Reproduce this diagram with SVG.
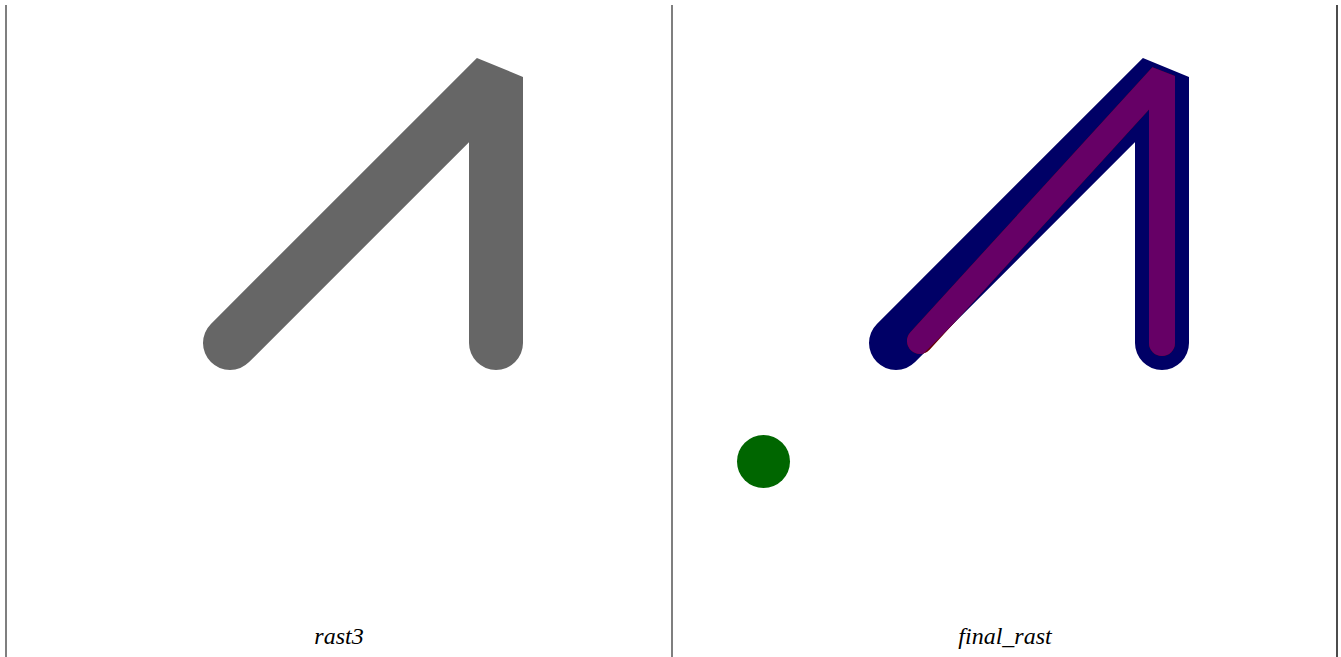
<svg xmlns="http://www.w3.org/2000/svg" width="1341" height="657" viewBox="0 0 1341 657">
<style>
.frame{stroke:#555555;stroke-width:1.5;fill:none}
.lbl{font-family:"Liberation Serif",serif;font-style:italic;font-size:24px;fill:#000;text-anchor:middle}
.stk{fill:none;stroke-linecap:round;stroke-linejoin:bevel}
</style>
<defs>
<mask id="navyMask" maskUnits="userSpaceOnUse" x="0" y="0" width="1341" height="657">
<rect width="1341" height="657" fill="#000"/>
<path class="stk" d="M896,343 L1162,77 L1162,343" stroke="#fff" stroke-width="54"/>
</mask>
</defs>
<rect width="1341" height="657" fill="#ffffff"/>
<g id="frames">
<line class="frame" x1="6" y1="5" x2="6" y2="657"/>
<line class="frame" x1="672" y1="5" x2="672" y2="657"/>
<line class="frame" x1="1337" y1="5" x2="1337" y2="657" style="stroke:#111"/>
</g>
<g id="rast3">
<path class="stk" d="M230,343 L496,77 L496,343" stroke="#666666" stroke-width="54"/>
<text class="lbl" x="339" y="644">rast3</text>
</g>
<g id="final_rast">
<path class="stk" d="M896,343 L1162,77 L1162,343" stroke="#000066" stroke-width="54"/>
<path class="stk" d="M920,341 L1162,76 L1162,343" stroke="#660000" stroke-width="26"/>
<path class="stk" d="M920,341 L1162,76 L1162,343" stroke="#660066" stroke-width="26" mask="url(#navyMask)"/>
<circle cx="763.5" cy="461.5" r="26.5" fill="#006600"/>
<text class="lbl" x="1005" y="644">final_rast</text>
</g>
</svg>
